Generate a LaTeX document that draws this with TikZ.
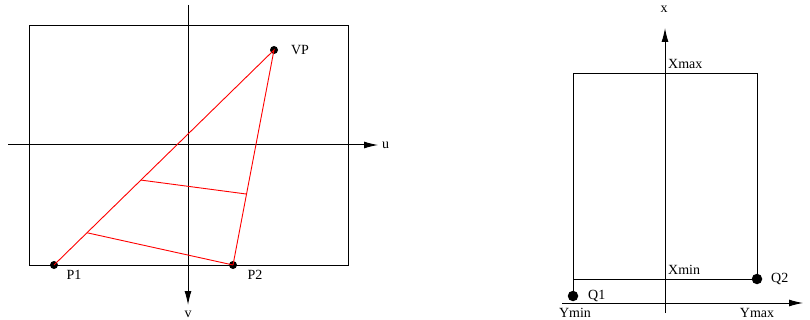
\documentclass[tikz,border=0pt]{standalone}
\usepackage{fontspec}
\setmainfont{Liberation Serif}
\usetikzlibrary{arrows.meta,calc}

\tikzset{
    axis/.style={line width=1pt, -{Latex[length=14pt,width=7pt]}},
    frame/.style={line width=0.9pt},
    ray/.style={red, line width=0.9pt},
    dot/.style={circle, fill=black, inner sep=0pt, minimum size=#1},
    lbl/.style={font=\fontsize{14}{16}\selectfont, inner sep=1pt}
}

\begin{document}
\begin{tikzpicture}[x=1pt, y=-1pt]
    \useasboundingbox (0,0) rectangle (810,320);

    % image plane
    \draw[frame] (29,25) rectangle (348,265);
    \draw[axis] (8,145) -- (378,145);
    \draw[axis] (188,5) -- (188,305);
    \node[lbl, anchor=west] (u) at (381,145) {u};
    \node[lbl] (v) at (188,314) {v};

    \node[dot=8pt] (VP) at (274,50) {};
    \node[dot=8pt] (P1) at (54,265) {};
    \node[dot=8pt] (P2) at (233,265) {};
    \node[lbl] at (300,50) {VP};
    \node[lbl] at (74,275) {P1};
    \node[lbl] at (255,275) {P2};

    \coordinate (A1) at ($(P1)!0.15!(VP)$);
    \coordinate (A2) at ($(P1)!0.395!(VP)$);
    \coordinate (B2) at ($(P2)!0.33!(VP)$);
    \draw[ray] (P1.center) -- (VP.center) -- (P2.center);
    \draw[ray] (A1) -- (P2.center);
    \draw[ray] (A2) -- (B2);

    % world plane
    \draw[frame] (573,296) -- (573,73) -- (757,73) -- (757,279) -- (573,279);
    \draw[axis] (562,303) -- (803,303);
    \draw[axis] (665,313) -- (665,28);
    \node[lbl] (x) at (664,9) {x};

    \node[dot=10.5pt] (Q1) at (573,296) {};
    \node[dot=10.5pt] (Q2) at (757,279) {};
    \node[lbl, anchor=west] at (587,296) {Q1};
    \node[lbl, anchor=west] at (770,279) {Q2};
    \node[lbl, anchor=west] at (667,64) {Xmax};
    \node[lbl, anchor=west] at (667,270) {Xmin};
    \node[lbl] at (575,313) {Ymin};
    \node[lbl] at (757,313) {Ymax};
\end{tikzpicture}
\end{document}
